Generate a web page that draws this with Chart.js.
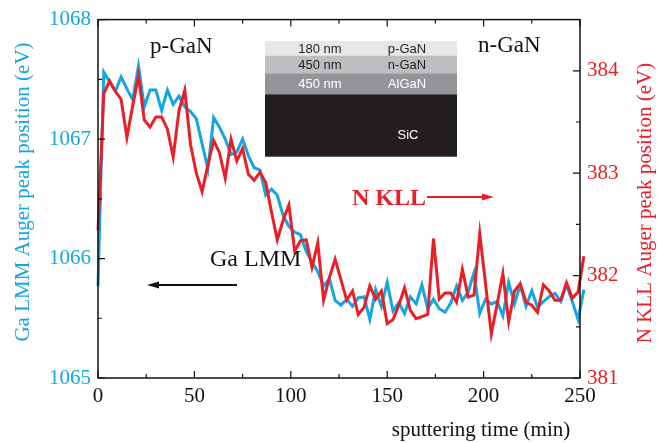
<!DOCTYPE html>
<html>
<head>
<meta charset="utf-8">
<script src="https://cdn.jsdelivr.net/npm/chart.js@4/dist/chart.umd.min.js"></script>
<style>
  html, body { margin: 0; padding: 0; background: #fff; }
  #wrap { width: 671px; height: 443px; }
</style>
</head>
<body>
<div id="wrap"><canvas id="auger" width="671" height="443"></canvas></div>
<script>
// sputtering time (min)
const times = [0, 3, 6, 9, 12, 15, 18, 21, 24, 27, 30, 33, 36, 39, 42, 45, 48, 51, 54, 57,
  60, 63, 66, 69, 72, 75, 78, 81, 84, 87, 90, 93, 96, 99, 102, 105, 108, 111, 114, 117,
  120, 123, 126, 129, 132, 135, 138, 141, 144, 147, 150, 153, 156, 159, 162, 165, 168, 171, 174, 177,
  180, 183, 186, 189, 192, 195, 198, 201, 204, 207, 210, 213, 216, 219, 222, 225, 228, 231, 234, 237,
  240, 243, 246, 249, 252];

// Ga LMM Auger peak position (eV), left axis
const gaLmm = [1065.77, 1067.56, 1067.48, 1067.40, 1067.52, 1067.42, 1067.33, 1067.61, 1067.27, 1067.41,
  1067.41, 1067.24, 1067.41, 1067.29, 1067.36, 1067.27, 1067.23, 1067.17, 1066.96, 1066.75,
  1067.18, 1067.10, 1067.00, 1066.87, 1066.89, 1067.00, 1066.86, 1066.76, 1066.74, 1066.53,
  1066.58, 1066.53, 1066.36, 1066.27, 1066.22, 1066.20, 1066.06, 1065.97, 1065.89, 1065.77,
  1065.83, 1065.65, 1065.61, 1065.66, 1065.60, 1065.67, 1065.68, 1065.49, 1065.74, 1065.60,
  1065.80, 1065.56, 1065.63, 1065.54, 1065.68, 1065.62, 1065.78, 1065.58, 1065.66, 1065.58,
  1065.55, 1065.63, 1065.77, 1065.65, 1065.72, 1065.88, 1065.54, 1065.66, 1065.62, 1065.64,
  1065.52, 1065.80, 1065.62, 1065.78, 1065.60, 1065.73, 1065.59, 1065.64, 1065.68, 1065.71,
  1065.64, 1065.78, 1065.64, 1065.49, 1065.74];

// N KLL Auger peak position (eV), right axis
const nKll = [382.44, 383.78, 383.90, 383.80, 383.72, 383.35, 383.66, 383.95, 383.52, 383.45,
  383.55, 383.55, 383.43, 383.16, 383.61, 383.81, 383.28, 383.00, 382.82, 383.08,
  383.32, 383.20, 382.95, 383.33, 383.12, 383.24, 382.99, 382.93, 383.01, 382.91,
  382.62, 382.35, 382.54, 382.69, 382.24, 382.34, 382.35, 382.08, 382.32, 381.76,
  381.98, 382.16, 381.96, 381.76, 381.85, 381.62, 381.69, 381.90, 381.77, 381.85,
  381.53, 381.57, 381.71, 381.88, 381.66, 381.58, 381.60, 381.62, 382.36, 381.77,
  381.83, 381.83, 381.74, 382.06, 381.79, 381.81, 382.41, 381.92, 381.43, 381.72,
  382.02, 381.55, 381.85, 381.92, 381.74, 381.71, 381.64, 381.91, 381.85, 381.76,
  381.76, 381.93, 381.78, 381.84, 382.19];

const xMajor = [0, 50, 100, 150, 200, 250];
const xMinor = [25, 75, 125, 175, 225];
const gaMajor = [1065, 1066, 1067, 1068];
const gaMinor = [1065.5, 1066.5, 1067.5];
const nMajor = [381, 382, 383, 384];
const nMinor = [381.5, 382.5, 383.5];

// inset layer stack (thickness label, layer name)
const layers = [['180 nm', 'p-GaN'], ['450 nm', 'n-GaN'], ['450 nm', 'AlGaN'], ['', 'SiC']];

const BLUE = '#15a6e2';
const RED = '#e81f27';
const SERIF = '"Liberation Serif", "Times New Roman", serif';
const SANS = '"Liberation Sans", Arial, sans-serif';

function arrow(ctx, x1, x2, y, color) {
    const dir = Math.sign(x2 - x1);
    ctx.strokeStyle = color; ctx.fillStyle = color; ctx.lineWidth = 2;
    ctx.beginPath(); ctx.moveTo(x1, y); ctx.lineTo(x2 - dir * 8, y); ctx.stroke();
    ctx.beginPath(); ctx.moveTo(x2, y); ctx.lineTo(x2 - dir * 12, y - 3.5); ctx.lineTo(x2 - dir * 12, y + 3.5); ctx.closePath(); ctx.fill();
}

const decor = {
    id: 'decor',
    afterDraw(chart) {
        const { ctx, chartArea: a, scales } = chart;
        ctx.save();
        // frame
        ctx.strokeStyle = '#111'; ctx.lineWidth = 1.5;
        ctx.strokeRect(a.left, a.top, a.right - a.left, a.bottom - a.top);
        // inward ticks
        ctx.lineWidth = 1.2;
        ctx.beginPath();
        const tx = (v, len) => {
            const p = scales.x.getPixelForValue(v);
            ctx.moveTo(p, a.bottom); ctx.lineTo(p, a.bottom - len);
            ctx.moveTo(p, a.top); ctx.lineTo(p, a.top + len);
        };
        xMajor.forEach(v => tx(v, 7)); xMinor.forEach(v => tx(v, 4));
        const ty = (sc, v, len, left) => {
            const p = sc.getPixelForValue(v);
            if (left) { ctx.moveTo(a.left, p); ctx.lineTo(a.left + len, p); }
            else { ctx.moveTo(a.right, p); ctx.lineTo(a.right - len, p); }
        };
        gaMajor.forEach(v => ty(scales.y, v, 7, true)); gaMinor.forEach(v => ty(scales.y, v, 4, true));
        nMajor.forEach(v => ty(scales.y1, v, 7, false)); nMinor.forEach(v => ty(scales.y1, v, 4, false));
        ctx.stroke();

        // axis titles
        ctx.font = '21px ' + SERIF; ctx.textAlign = 'center'; ctx.textBaseline = 'middle';
        ctx.fillStyle = BLUE;
        ctx.save(); ctx.translate(23, 192); ctx.rotate(-Math.PI / 2);
        ctx.fillText('Ga LMM Auger peak position (eV)', 0, 0); ctx.restore();
        ctx.fillStyle = RED;
        ctx.save(); ctx.translate(645, 203); ctx.rotate(-Math.PI / 2);
        ctx.fillText('N KLL Auger peak position (eV)', 0, 0); ctx.restore();
        ctx.fillStyle = '#111'; ctx.font = '21px ' + SERIF;
        ctx.fillText('sputtering time (min)', 481, 430);

        // region labels
        ctx.textBaseline = 'alphabetic'; ctx.textAlign = 'left';
        ctx.font = '23px ' + SERIF;
        ctx.fillText('p-GaN', 150, 53);
        ctx.fillText('n-GaN', 478, 52);
        ctx.font = '24px ' + SERIF;
        ctx.fillText('Ga LMM', 210, 266);
        arrow(ctx, 237, 147, 285, '#111');
        ctx.fillStyle = RED; ctx.font = 'bold 24px ' + SERIF;
        ctx.fillText('N KLL', 352, 205);
        arrow(ctx, 427, 494, 197, RED);

        // inset: layer stack
        const bands = [[41, 55.7, '#e6e7e8', '#231f20'], [55.7, 73.3, '#bcbec0', '#231f20'],
                       [73.3, 94.3, '#939598', '#ffffff'], [94.3, 156.7, '#231f20', '#ffffff']];
        ctx.font = '13px ' + SANS; ctx.textAlign = 'center'; ctx.textBaseline = 'middle';
        bands.forEach(([y0, y1, fill, ink], i) => {
            ctx.fillStyle = fill; ctx.fillRect(265, y0, 192, y1 - y0);
            ctx.fillStyle = ink;
            const yc = i === 3 ? 135 : (y0 + y1) / 2 + 1;
            if (layers[i][0]) ctx.fillText(layers[i][0], 320, yc);
            ctx.fillText(layers[i][1], i === 3 ? 408 : 407, yc);
        });
        ctx.restore();
    }
};

new Chart(document.getElementById('auger'), {
    type: 'line',
    data: {
        datasets: [
            { label: 'N KLL', data: times.map((t, i) => ({ x: t, y: nKll[i] })), yAxisID: 'y1',
              borderColor: RED, borderWidth: 3, pointRadius: 0, tension: 0, clip: false, order: 1 },
            { label: 'Ga LMM', data: times.map((t, i) => ({ x: t, y: gaLmm[i] })), yAxisID: 'y',
              borderColor: BLUE, borderWidth: 3, pointRadius: 0, tension: 0, clip: false, order: 2 }
        ]
    },
    options: {
        responsive: false, animation: false, devicePixelRatio: 1,
        layout: { padding: { top: 16, left: 0, right: 0, bottom: 0 } },
        plugins: { legend: { display: false }, tooltip: { enabled: false } },
        scales: {
            x: {
                type: 'linear', min: 0, max: 250,
                afterFit: s => { s.height = 65; },
                grid: { display: false, drawTicks: false }, border: { display: false },
                ticks: { stepSize: 50, padding: 6, color: '#111', font: { family: SERIF, size: 21 } }
            },
            y: {
                position: 'left', min: 1065, max: 1068,
                afterFit: s => { s.width = 98; },
                grid: { display: false, drawTicks: false }, border: { display: false },
                ticks: { stepSize: 1, padding: 7, color: BLUE, font: { family: SERIF, size: 21 },
                         callback: v => String(v) }
            },
            y1: {
                position: 'right', min: 381, max: 384.5,
                afterFit: s => { s.width = 91; },
                grid: { display: false, drawTicks: false }, border: { display: false },
                ticks: { stepSize: 1, padding: 7, autoSkip: false, color: RED, font: { family: SERIF, size: 21 },
                         callback: v => Number.isInteger(v) ? String(v) : '' }
            }
        }
    },
    plugins: [decor]
});
</script>
</body>
</html>
